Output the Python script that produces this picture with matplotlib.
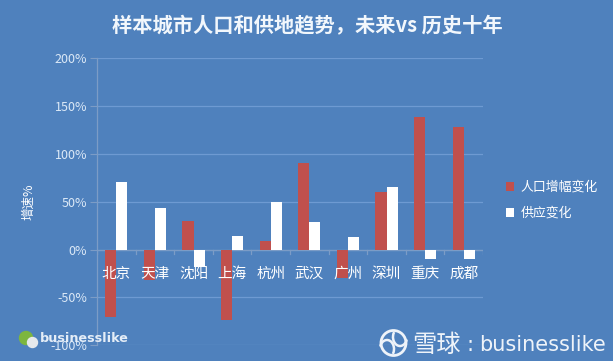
import numpy as np
import matplotlib
matplotlib.use("Agg")
import matplotlib.pyplot as plt
from matplotlib.patches import Circle, Arc

plt.rcParams['font.family'] = ['Noto Sans CJK SC', 'DejaVu Sans']

cities = ['北京', '天津', '沈阳', '上海', '杭州', '武汉', '广州', '深圳', '重庆', '成都']
pop_change = [-70, -32, 30, -74, 9, 91, -30, 60, 139, 128]
supply_change = [71, 43, -18, 14, 50, 29, 13, 65, -10, -10]
y_ticks = [-100, -50, 0, 50, 100, 150, 200]

BG = '#4F81BD'
RED = '#C0504D'
W, H = 613, 361

fig = plt.figure(figsize=(W / 100, H / 100), dpi=100, facecolor=BG)
# axes box in pixels: x 97-483, y 58-345
ax = fig.add_axes([97 / W, 1 - 345.3 / H, 386 / W, 287 / H], facecolor=BG)

x = np.arange(len(cities))
width = 0.285
ax.bar(x - width / 2, pop_change, width, color=RED, label='人口增幅变化', zorder=3)
ax.bar(x + width / 2, supply_change, width, color='white', label='供应变化', zorder=3)

ax.set_xlim(-0.5, len(cities) - 0.5)
ax.set_ylim(-100, 200)
ax.set_yticks(y_ticks)
ax.set_yticklabels([f'{v}%' for v in y_ticks], fontsize=9, color='#DCE9F7')
ax.tick_params(axis='y', length=5, color='#7C9CC6', pad=2)
ax.grid(axis='y', color='#6E9AD2', lw=0.9, zorder=1)
ax.set_axisbelow(True)

# category labels sit just under the zero line, on top of the bars
ax.set_xticks(x - 0.5, minor=False)
ax.set_xticklabels([])
ax.tick_params(axis='x', length=0)
for xt in list(x - 0.5) + [len(cities) - 0.5]:
    ax.plot([xt, xt], [0, -5], color='#7C9CC6', lw=0.9, zorder=2)
for xi, name in zip(x, cities):
    ax.text(xi, -25.5, name, ha='center', va='center', fontsize=10.5, color='white', zorder=5)
ax.axhline(0, color='#7C9CC6', lw=0.9, zorder=2)

for s in ['top', 'right', 'bottom']:
    ax.spines[s].set_visible(False)
ax.spines['left'].set_color('#7C9CC6')
ax.spines['left'].set_linewidth(0.9)

fig.text(29 / W, 1 - 202 / H, '增速%', rotation=90, ha='center', va='center',
         fontsize=9, color='white')
fig.text(307 / W, 1 - 26 / H, '样本城市人口和供地趋势，未来vs 历史十年', ha='center', va='center',
         fontsize=14.6, fontweight='bold', color='#F2F7FC')

ax.legend(loc='center left', bbox_to_anchor=(506 / W, 1 - 200.5 / H),
          bbox_transform=fig.transFigure, frameon=False, fontsize=9.3,
          labelcolor='white', handlelength=0.6, handleheight=0.6,
          handletextpad=0.5, labelspacing=1.0, borderpad=0, borderaxespad=0)

# watermarks
overlay = fig.add_axes([0, 0, 1, 1], facecolor='none')
overlay.set_xlim(0, W)
overlay.set_ylim(H, 0)
overlay.axis('off')
overlay.add_patch(Circle((26, 338), 6.5, color='#7DB63F', zorder=6))
overlay.add_patch(Circle((32.5, 342.5), 5, color='#E6E9EC', zorder=7))
overlay.text(40, 339, 'businesslike', fontsize=9.2, fontweight='bold', color='#E4EDF7',
             family='DejaVu Sans', ha='left', va='center', zorder=8)
overlay.add_patch(Circle((393.5, 343), 12.5, fill=False, ec='#EEF3F9', lw=2, zorder=6))
overlay.add_patch(Arc((387, 349), 14, 18, theta1=200, theta2=400, ec='#EEF3F9', lw=1.8, zorder=6))
overlay.add_patch(Arc((400, 337), 14, 18, theta1=20, theta2=220, ec='#EEF3F9', lw=1.8, zorder=6))
overlay.text(412, 345, '雪球', fontsize=17.5, color='#EEF3F9', ha='left', va='center', zorder=8)
overlay.text(470, 345, ':', fontsize=15, color='#EEF3F9', ha='center', va='center',
             family='DejaVu Sans', zorder=8)
overlay.text(479, 345, 'businesslike', fontsize=15, color='#EEF3F9', family='DejaVu Sans',
             ha='left', va='center', zorder=8)

fig.savefig('out.png', dpi=100, facecolor=BG)
